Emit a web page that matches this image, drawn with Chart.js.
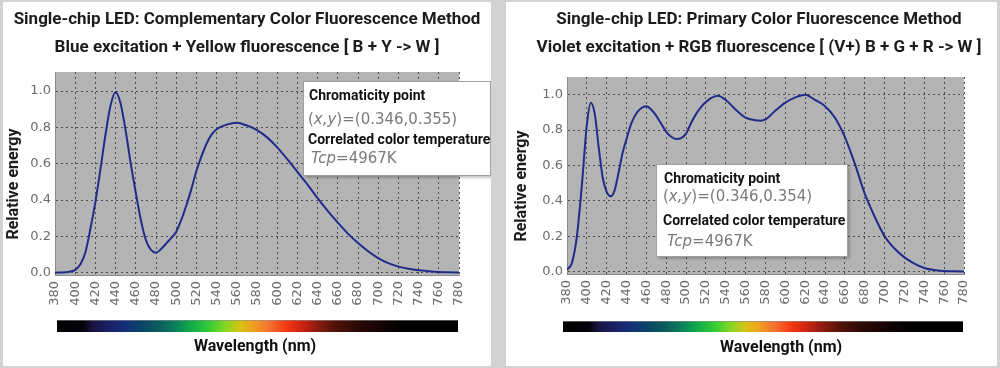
<!DOCTYPE html>
<html><head><meta charset="utf-8">
<script src="https://cdn.jsdelivr.net/npm/chart.js@4.4.1/dist/chart.umd.min.js"></script>
<style>
html,body{margin:0;padding:0;background:#d2d2d2;width:1000px;height:368px;overflow:hidden}
.panel{position:absolute;background:#fff;top:2px;height:364px}
#p1{left:3px;width:488px}
#p2{left:506px;width:491px}
canvas{display:block}
</style></head><body>
<div class="panel" id="p1"><canvas id="c1" width="488" height="364"></canvas></div>
<div class="panel" id="p2"><canvas id="c2" width="491" height="364"></canvas></div>
<script>
// ---- data ----
const wavelengthTicks = [380,400,420,440,460,480,500,520,540,560,580,600,620,640,660,680,700,720,740,760,780];
const energyTicks = [0, 0.2, 0.4, 0.6, 0.8, 1.0];

const complementaryTitle = ['Single-chip LED: Complementary Color Fluorescence Method',
                            'Blue excitation + Yellow fluorescence [ B + Y -> W ]'];
const primaryTitle = ['Single-chip LED: Primary Color Fluorescence Method',
                      'Violet excitation + RGB fluorescence [ (V+) B + G + R -> W ]'];
const yAxisLabel = 'Relative energy';
const xAxisLabel = 'Wavelength (nm)';
const complementaryChromaticity = '(0.346,0.355)';
const primaryChromaticity = '(0.346,0.354)';
const complementaryCCT = '4967K';
const primaryCCT = '4967K';

const complementaryWavelengths = [380,390,395,400,405,410,415,420,425,430,435,440,445,450,455,460,465,470,475,480,485,490,495,500,505,510,515,520,525,530,535,540,550,560,570,580,590,600,610,620,630,640,650,660,670,680,690,700,710,720,730,740,750,760,770,780];
const complementaryEnergy    = [0.0,0.002,0.006,0.015,0.045,0.11,0.24,0.39,0.57,0.76,0.92,0.995,0.93,0.78,0.60,0.44,0.29,0.18,0.125,0.11,0.13,0.16,0.19,0.225,0.29,0.37,0.46,0.56,0.64,0.71,0.76,0.79,0.815,0.825,0.81,0.785,0.745,0.69,0.625,0.555,0.485,0.41,0.34,0.275,0.215,0.163,0.118,0.08,0.052,0.033,0.021,0.013,0.008,0.004,0.002,0.001];

const primaryWavelengths = [380,385,390,395,400,404,408,412,416,420,424,428,432,436,440,445,450,455,460,465,470,475,480,485,490,495,500,505,510,515,520,525,532,540,550,560,570,575,580,590,600,610,620,630,640,650,660,670,680,690,700,710,720,730,740,750,760,770,780];
const primaryEnergy    = [0.01,0.05,0.2,0.49,0.83,0.955,0.89,0.70,0.53,0.45,0.425,0.46,0.56,0.67,0.75,0.84,0.895,0.925,0.935,0.915,0.88,0.835,0.79,0.762,0.75,0.755,0.78,0.84,0.89,0.93,0.958,0.98,0.994,0.97,0.915,0.87,0.855,0.853,0.86,0.91,0.955,0.985,1.0,0.97,0.935,0.87,0.76,0.61,0.44,0.31,0.20,0.13,0.08,0.045,0.02,0.008,0.003,0.001,0.0];

// ---- drawing helpers ----
const spectrumStops = [
  [0.00,'#000000'],[0.065,'#04020a'],[0.09,'#1a1442'],[0.13,'#1a1f66'],[0.17,'#12307a'],
  [0.21,'#0b4566'],[0.25,'#0a5a5c'],[0.29,'#0a7a5c'],[0.33,'#10a64a'],[0.38,'#36cc36'],
  [0.42,'#86d624'],[0.455,'#d6c414'],[0.49,'#f0a020'],[0.53,'#f47030'],[0.57,'#f43a12'],
  [0.61,'#cc2410'],[0.65,'#8c1a10'],[0.69,'#561208'],[0.75,'#2a0a06'],[0.82,'#100303'],
  [0.86,'#000000'],[1.00,'#000000']
];

function drawRuns(ctx, x, y, runs) {
  let cx = x;
  for (const r of runs) {
    ctx.font = r.font;
    ctx.fillStyle = r.color;
    ctx.fillText(r.text, cx, y);
    cx += ctx.measureText(r.text).width;
  }
}

const decorPlugin = {
  id: 'decor',
  beforeDraw(chart, args, o) {
    const {ctx, chartArea: a} = chart;
    ctx.save();
    ctx.fillStyle = '#b4b4b4';
    ctx.fillRect(a.left, a.top, a.right - a.left, a.bottom - a.top);
    ctx.restore();
  },
  afterDraw(chart, args, o) {
    const ctx = chart.ctx;
    ctx.save();
    // titles
    ctx.fillStyle = '#1c1c1c';
    ctx.font = 'bold 17px Roboto';
    ctx.textAlign = 'center';
    ctx.textBaseline = 'middle';
    ctx.fillText(o.title[0], o.titleX, o.titleY[0]);
    ctx.fillText(o.title[1], o.titleX, o.titleY[1]);
    // y axis title
    ctx.save();
    ctx.translate(o.yTitle[0], o.yTitle[1]);
    ctx.rotate(-Math.PI / 2);
    ctx.font = 'bold 16px Roboto';
    ctx.fillText(yAxisLabel, 0, 0);
    ctx.restore();
    // spectrum bar
    const [bx0, bx1, by0, by1] = o.bar;
    const g = ctx.createLinearGradient(bx0, 0, bx1, 0);
    spectrumStops.forEach(s => g.addColorStop(s[0], s[1]));
    ctx.fillStyle = g;
    ctx.fillRect(bx0, by0, bx1 - bx0, by1 - by0);
    ctx.fillStyle = 'rgba(140,140,140,0.6)';
    ctx.fillRect(bx0, by0, bx1 - bx0, 1);
    // x axis title
    ctx.fillStyle = '#111';
    ctx.font = 'bold 16px Roboto';
    ctx.fillText(xAxisLabel, o.xTitle[0], o.xTitle[1]);
    // annotation box
    const [x0, y0, x1, y1] = o.box;
    ctx.save();
    ctx.shadowColor = 'rgba(0,0,0,0.28)';
    ctx.shadowBlur = 3;
    ctx.shadowOffsetX = 1.5;
    ctx.shadowOffsetY = 1.5;
    ctx.fillStyle = '#ffffff';
    ctx.fillRect(x0, y0, x1 - x0, y1 - y0);
    ctx.restore();
    ctx.strokeStyle = '#a0a0a0';
    ctx.lineWidth = 1;
    ctx.strokeRect(x0 + 0.5, y0 + 0.5, x1 - x0 - 1, y1 - y0 - 1);
    ctx.textAlign = 'left';
    ctx.textBaseline = 'middle';
    const L = o.lines, X = o.lineX;
    const bold = 'bold 14px Roboto', reg = '15px "DejaVu Sans"', ital = 'oblique 15px "DejaVu Sans"';
    drawRuns(ctx, x0 + X[0], y0 + L[0], [{text: 'Chromaticity point', font: bold, color: '#111'}]);
    drawRuns(ctx, x0 + X[1], y0 + L[1], [
      {text: '(', font: reg, color: '#7a7a7a'},
      {text: 'x,y', font: ital, color: '#7a7a7a'},
      {text: ')=' + o.chroma, font: reg, color: '#7a7a7a'}]);
    drawRuns(ctx, x0 + X[2], y0 + L[2], [{text: 'Correlated color temperature', font: bold, color: '#111'}]);
    drawRuns(ctx, x0 + X[3], y0 + L[3], [
      {text: 'Tcp', font: ital, color: '#7a7a7a'},
      {text: '=' + o.cct, font: reg, color: '#7a7a7a'}]);
    ctx.restore();
  }
};

function makeChart(id, wl, energy, geo, decor) {
  const gridColor = '#4e4e4e';
  const tickFont = {family: 'DejaVu Sans', size: 13};
  return new Chart(document.getElementById(id), {
    type: 'line',
    data: {
      datasets: [{
        data: wl.map((x, i) => ({x: x, y: energy[i]})),
        borderColor: '#1f2c8c',
        borderWidth: 2,
        pointRadius: 0,
        fill: false,
        cubicInterpolationMode: 'monotone'
      }]
    },
    options: {
      responsive: false,
      animation: false,
      devicePixelRatio: 1,
      layout: {padding: {left: 0, right: geo.padRight, top: geo.padTop, bottom: 0}},
      plugins: {legend: {display: false}, tooltip: {enabled: false}, title: {display: false}, decor: decor},
      scales: {
        x: {
          type: 'linear', min: 380, max: 780,
          afterBuildTicks: s => { s.ticks = wavelengthTicks.map(v => ({value: v})); },
          afterFit: s => { s.height = geo.xHeight; },
          ticks: {autoSkip: false, minRotation: 90, maxRotation: 90, padding: 6, color: '#6c6c6c', font: tickFont},
          grid: {color: gridColor, drawTicks: false, lineWidth: 1},
          border: {display: true, color: '#8a8a8a', width: 1, dash: [2, 3]}
        },
        y: {
          type: 'linear', min: geo.yMin, max: geo.yMax,
          afterBuildTicks: s => { s.ticks = energyTicks.map(v => ({value: v})); },
          afterFit: s => { s.width = geo.yWidth; },
          ticks: {padding: 4, color: '#6c6c6c', font: tickFont, callback: v => Number(v).toFixed(1)},
          grid: {color: gridColor, drawTicks: false, lineWidth: 1},
          border: {display: true, color: '#8a8a8a', width: 1, dash: [2, 3]}
        }
      }
    },
    plugins: [decorPlugin]
  });
}

makeChart('c1', complementaryWavelengths, complementaryEnergy,
  {padRight: 32, padTop: 70, xHeight: 91, yWidth: 52, yMin: -0.013, yMax: 1.105},
  {title: complementaryTitle, titleX: 244, titleY: [18, 46], yTitle: [11, 182],
   bar: [54, 455, 318, 330], xTitle: [252, 345],
   box: [300, 79, 488, 174], lines: [15.5, 39, 59.5, 78.5], lineX: [6, 5, 5, 8],
   chroma: complementaryChromaticity, cct: complementaryCCT});

makeChart('c2', primaryWavelengths, primaryEnergy,
  {padRight: 33, padTop: 75, xHeight: 92, yWidth: 61, yMin: -0.014, yMax: 1.1},
  {title: primaryTitle, titleX: 253, titleY: [18, 46], yTitle: [16, 184],
   bar: [57, 457, 319, 330], xTitle: [275, 346],
   box: [150, 162, 342, 255], lines: [15, 33, 57, 78], lineX: [8, 7, 7, 11],
   chroma: primaryChromaticity, cct: primaryCCT});
</script>
</body></html>
